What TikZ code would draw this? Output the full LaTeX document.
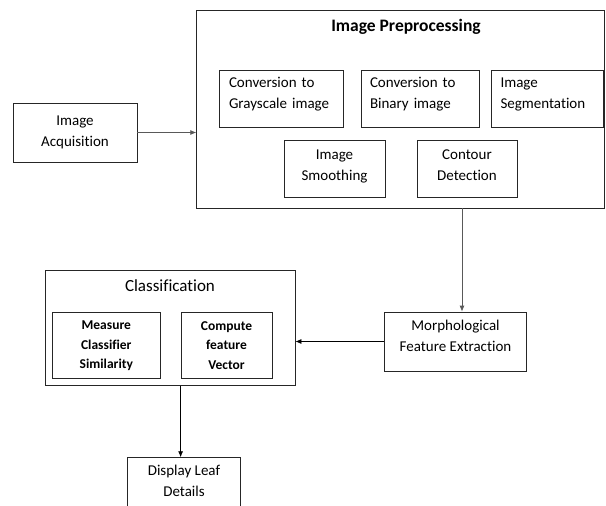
\documentclass[tikz,border=0pt]{standalone}
\usepackage{fontspec}
\setmainfont{Carlito}[Ligatures=NoCommon]
\usetikzlibrary{arrows.meta}

\tikzset{
  box/.style={draw=black!85, line width=0.75pt, inner sep=0pt, align=center,
    font=\fontsize{15}{21}\selectfont},
  leftbox/.style={box, align=left, text width=#1, text depth=32.5pt},
  smallbox/.style={box, font=\bfseries\fontsize{13.5}{19.5}\selectfont},
  title/.style={inner sep=0pt, font=\fontsize{17}{19}\selectfont},
  flow/.style={-{Latex[length=6pt,width=5pt]}, line width=0.75pt}
}

\begin{document}
\begin{tikzpicture}[x=1pt, y=-1pt]
  \useasboundingbox (0,0) rectangle (606,506);
  \clip (0,0) rectangle (606,506);

  % preprocessing block
  \node [box, minimum width=408, minimum height=198] (pre) at (400.7,109) {};
  \node [title, font=\bfseries\fontsize{17.5}{19}\selectfont] (pretitle) at (406,27) {Image Preprocessing};
  \node [leftbox=104pt, minimum width=124, minimum height=57] (gray) at (281,98.5)
    {Conversion to\\Grayscale image};
  \node [leftbox=100pt, minimum width=118, minimum height=57] (bin) at (420,98.5)
    {Conversion to\\Binary image};
  \node [leftbox=93pt, minimum width=112, minimum height=57] (seg) at (547,98.5)
    {Image\\Segmentation};
  \node [box, minimum width=101, minimum height=57, text depth=7pt] (smooth) at (334.5,168.5)
    {Image\\Smoothing};
  \node [box, minimum width=100, minimum height=57, text depth=7pt] (contour) at (467,168.5)
    {Contour\\Detection};

  \node [box, minimum width=124, minimum height=59, text depth=3pt] (acq) at (75,132.5)
    {Image\\Acquisition};
  \node [box, minimum width=142, minimum height=59, text depth=11pt] (morph) at (455.5,341.5)
    {Morphological\\Feature Extraction};

  % classification block
  \node [box, minimum width=250, minimum height=114.6] (cls) at (170,328) {};
  \node [title] (clstitle) at (170,286) {Classification};
  \node [smallbox, minimum width=107.4, minimum height=66] (measure) at (106.3,345.7)
    {Measure\\Classifier\\Similarity};
  \node [smallbox, minimum width=91, minimum height=66.7] (compute) at (226.5,345.4)
    {Compute\\feature\\Vector};

  \node [box, minimum width=113, minimum height=50, text depth=3pt] (disp) at (184,482.7)
    {Display Leaf\\Details};

  % arrows
  \draw [flow, black!65] (acq.east) -- (pre.west |- acq.east);
  \draw [flow, black!65] ([xshift=6.5pt]morph.north |- pre.south) -- ([xshift=6.5pt]morph.north);
  \draw [flow] (morph.west) -- (morph.west -| cls.east);
  \draw [flow] (compute.west |- cls.south) -- (compute.west |- disp.north);
\end{tikzpicture}
\end{document}
